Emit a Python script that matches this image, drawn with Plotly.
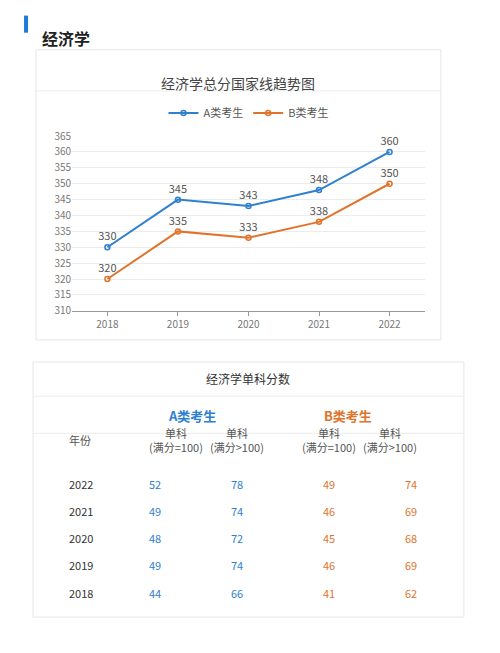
import plotly.graph_objects as go

W, H = 500, 653

years = ['2018', '2019', '2020', '2021', '2022']
score_a = [330, 345, 343, 348, 360]
score_b = [320, 335, 333, 338, 350]

table_years = ['2022', '2021', '2020', '2019', '2018']
a_100 = [52, 49, 48, 49, 44]
a_gt100 = [78, 74, 72, 74, 66]
b_100 = [49, 46, 45, 46, 41]
b_gt100 = [74, 69, 68, 69, 62]

BLUE = '#2f80cf'
ORANGE = '#e0742c'
FONT = 'Noto Sans CJK SC'


# page positions -> paper coords (corrected for the page offset seen in the screenshot)
def px(x):
    return ((x - 8) / 0.998) / W


def py(y):
    return 1 - ((y - 17.4) / 0.973) / H


fig = go.Figure()

fig.add_trace(go.Scatter(
    x=years, y=score_a, name='A类考生', mode='lines+markers+text',
    line=dict(color=BLUE, width=2),
    marker=dict(symbol='circle-open', size=5, color=BLUE, line=dict(width=1.5)),
    text=score_a, textposition='top center', textfont=dict(color='#555', size=11)))
fig.add_trace(go.Scatter(
    x=years, y=score_b, name='B类考生', mode='lines+markers+text',
    line=dict(color=ORANGE, width=2),
    marker=dict(symbol='circle-open', size=5, color=ORANGE, line=dict(width=1.5)),
    text=score_b, textposition='top center', textfont=dict(color='#555', size=11)))

shapes = [
    dict(type='rect', xref='paper', yref='paper', x0=px(24), x1=px(28), y0=py(34), y1=py(17),
         fillcolor='#1f7bd8', line=dict(width=0)),
    dict(type='rect', xref='paper', yref='paper', x0=px(36), x1=px(440), y0=py(340), y1=py(51),
         fillcolor='rgba(0,0,0,0)', line=dict(color='#e6e6e6', width=1)),
    dict(type='line', xref='paper', yref='paper', x0=px(36), x1=px(440), y0=py(92), y1=py(92),
         line=dict(color='#ececec', width=1)),
    dict(type='rect', xref='paper', yref='paper', x0=px(33), x1=px(463), y0=py(616), y1=py(362),
         fillcolor='rgba(0,0,0,0)', line=dict(color='#e6e6e6', width=1)),
    dict(type='line', xref='paper', yref='paper', x0=px(33), x1=px(463), y0=py(396), y1=py(396),
         line=dict(color='#ececec', width=1)),
    dict(type='line', xref='paper', yref='paper', x0=px(33), x1=px(463), y0=py(433), y1=py(433),
         line=dict(color='#ececec', width=1)),
]

ann = [
    dict(x=px(40), y=py(25), text='<b>经济学</b>', xanchor='left', font=dict(size=16, color='#222')),
    dict(x=px(238), y=py(72), text='经济学总分国家线趋势图', font=dict(size=14, color='#444')),
    dict(x=px(248), y=py(378), text='经济学单科分数', font=dict(size=12, color='#333')),
    dict(x=px(192), y=py(415), text='<b>A类考生</b>', font=dict(size=13, color=BLUE)),
    dict(x=px(373), y=py(415), text='<b>B类考生</b>', font=dict(size=13, color=ORANGE)),
    dict(x=px(67), y=py(450), text='年份', font=dict(size=11, color='#555')),
]
col_x = [147, 237, 328, 418]
col_head = ['单科<br>(满分=100)', '单科<br>(满分>100)', '单科<br>(满分=100)', '单科<br>(满分>100)']
for cx, t in zip(col_x, col_head):
    ann.append(dict(x=px(cx), y=py(457), text=t, font=dict(size=11, color='#555')))
row_y = [493, 520, 547, 574, 602]
cols = [(a_100, BLUE), (a_gt100, BLUE), (b_100, ORANGE), (b_gt100, ORANGE)]
for i, ry in enumerate(row_y):
    ann.append(dict(x=px(67), y=py(ry), text=table_years[i], font=dict(size=11, color='#333')))
    for cx, (vals, c) in zip(col_x, cols):
        ann.append(dict(x=px(cx), y=py(ry), text=str(vals[i]), font=dict(size=11, color=c)))
for a in ann:
    a.update(xref='paper', yref='paper', showarrow=False)

fig.update_layout(
    width=W, height=H, margin=dict(l=0, r=0, t=0, b=0),
    paper_bgcolor='white', plot_bgcolor='white',
    font=dict(family=FONT, color='#666'),
    shapes=shapes, annotations=ann,
    legend=dict(orientation='h', x=px(248), y=py(114), xanchor='center', yanchor='middle',
                font=dict(size=11, color='#555')),
    xaxis=dict(domain=[px(72), px(424)], showgrid=False, showline=True, linecolor='#999',
               ticks='outside', ticklen=4, tickcolor='#999', tickfont=dict(size=10, color='#777'),
               range=[-0.5, 4.5]),
    yaxis=dict(domain=[py(311), py(137)], range=[310, 365], dtick=5, gridcolor='#ececec',
               tickfont=dict(size=10, color='#777'), zeroline=False),
)

fig.write_html('out.html')
